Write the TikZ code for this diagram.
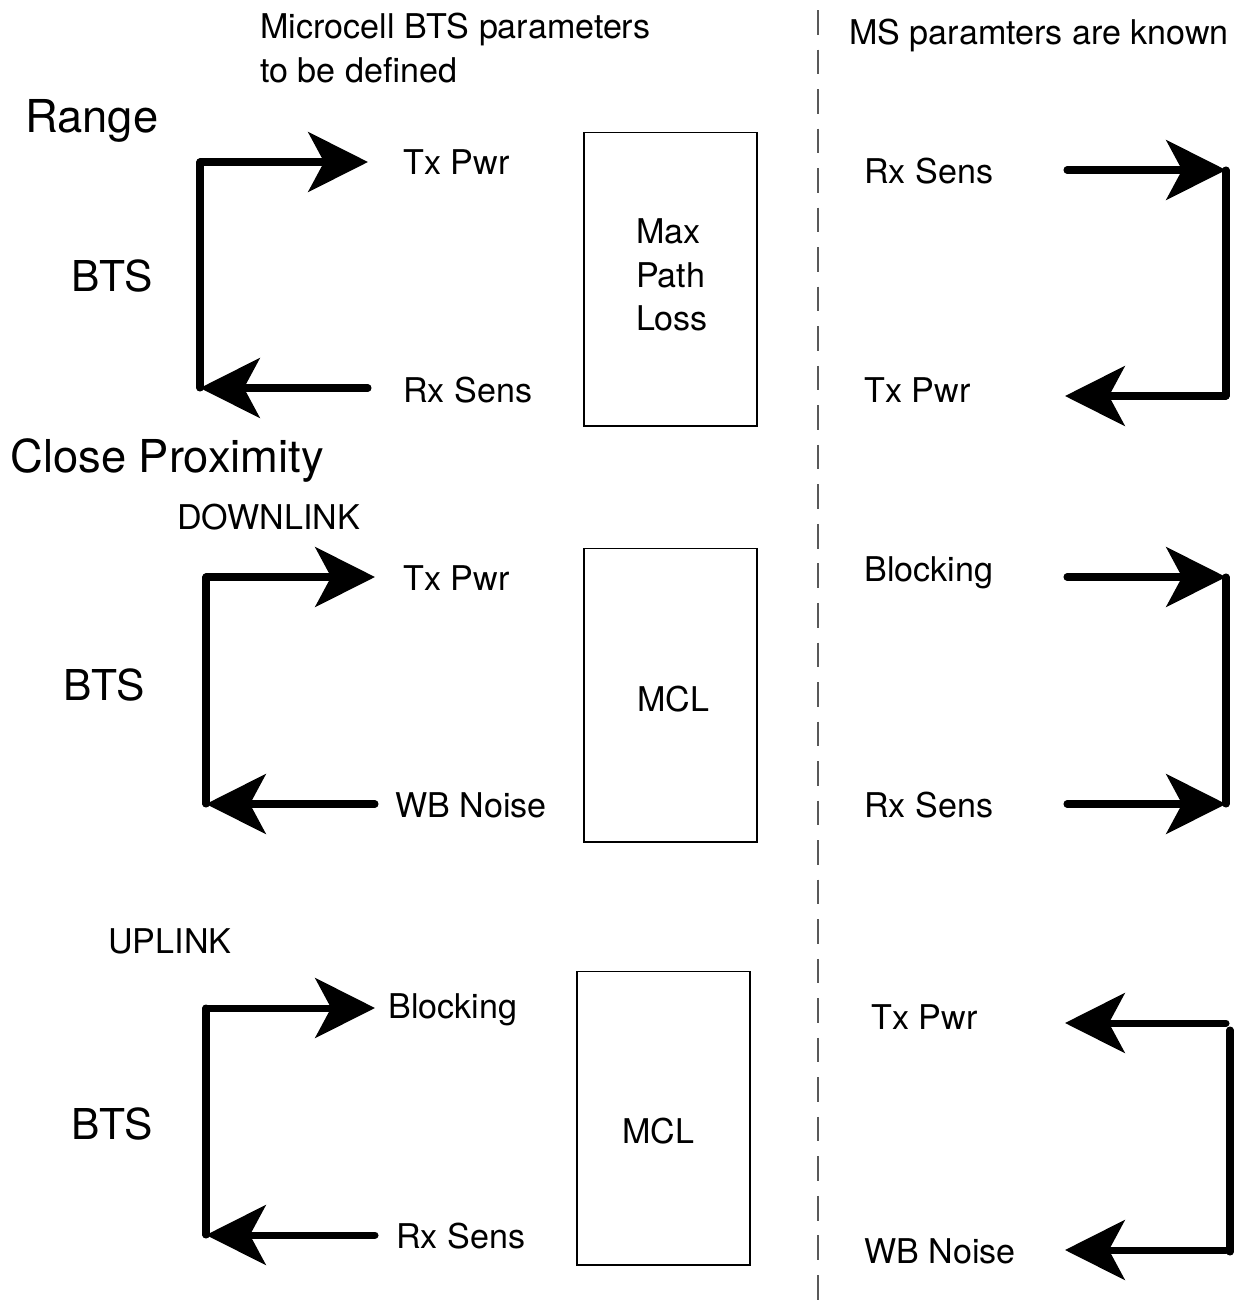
\documentclass[tikz,border=0pt]{standalone}
\usepackage{fontspec}
\setmainfont{TeX Gyre Heros}
\usetikzlibrary{arrows.meta}
\tikzset{
  lbl/.style={font=\fontsize{19.4}{24.7}\selectfont, anchor=west, inner sep=0pt, align=left},
  mid/.style={font=\fontsize{19.4}{24.7}\selectfont, inner sep=0pt, align=left},
  big/.style={font=\fontsize{25.8}{30}\selectfont, anchor=west, inner sep=0pt},
  bts/.style={font=\fontsize{24.2}{28}\selectfont, anchor=west, inner sep=0pt},
  bar/.style={line width=4pt, line cap=round},
  arr/.style={line width=4pt, line cap=round, -{Stealth[length=34pt,width=34pt,inset=9pt]}},
  box/.style={draw, line width=0.6pt, minimum width=3.46cm, minimum height=5.88cm, inner sep=0pt},
}

\begin{document}
\begin{tikzpicture}[x=0.02cm, y=-0.02cm]
  \useasboundingbox (0,0) rectangle (1244,1313);
  % divider
  \draw[gray!70!black, line width=1.2pt, dash pattern=on 14pt off 8.5pt] (818,10) -- (818,1313);
  % headings
  \node[lbl] (hleft) at (260,48) {Microcell BTS parameters\\to be defined};
  \node[lbl] (hright) at (849,35) {MS paramters are known};
  \node[big] (range) at (25,121) {Range};
  \node[big] (close) at (10,461) {Close Proximity};
  \node[lbl] (down) at (177,517) {DOWNLINK};
  \node[lbl] (up) at (108,941) {UPLINK};
  \node[bts] (bts1) at (71,276) {BTS};
  \node[bts] (bts2) at (63,685) {BTS};
  \node[bts] (bts3) at (71,1124) {BTS};

  % boxes
  \node[box] (mpl) at (670.5,279) {};
  \node[mid] (mpltxt) at (672,275) {Max\\Path\\Loss};
  \node[box] (mcl1) at (670.5,695) {};
  \node[mid] (mcltxt1) at (673,699) {MCL};
  \node[box] (mcl2) at (663.5,1118) {};
  \node[mid] (mcltxt2) at (658,1131) {MCL};

  % left side, range
  \coordinate (a1) at (200,162); \coordinate (a2) at (200,388);
  \coordinate (a3) at (368,162); \coordinate (a4) at (368,388);
  \draw[bar] (a1) -- (a2);
  \draw[arr] (a1) -- (a3);
  \draw[arr] (a4) -- (a2);
  \node[lbl] (t1) at (403,162) {Tx Pwr};
  \node[lbl] (r1) at (403,390) {Rx Sens};

  % left side, downlink
  \coordinate (b1) at (206,577); \coordinate (b2) at (206,804);
  \coordinate (b3) at (375,577); \coordinate (b4) at (375,804);
  \draw[bar] (b1) -- (b2);
  \draw[arr] (b1) -- (b3);
  \draw[arr] (b4) -- (b2);
  \node[lbl] (t2) at (403,578) {Tx Pwr};
  \node[lbl] (w2) at (395,805) {WB Noise};

  % left side, uplink
  \coordinate (c1) at (206,1008); \coordinate (c2) at (206,1235);
  \coordinate (c3) at (375,1008); \coordinate (c4) at (375,1235);
  \draw[bar] (c1) -- (c2);
  \draw[arr] (c1) -- (c3);
  \draw[arr] (c4) -- (c2);
  \node[lbl] (k3) at (388,1010) {Blocking};
  \node[lbl] (r3) at (396,1236) {Rx Sens};

  % right side, range
  \coordinate (d1) at (1226,170); \coordinate (d2) at (1226,396);
  \coordinate (d3) at (1067,170); \coordinate (d4) at (1065,396);
  \draw[bar] (d1) -- (d2);
  \draw[arr] (d3) -- (d1);
  \draw[arr] (d2) -- (d4);
  \node[lbl] (r4) at (864,171) {Rx Sens};
  \node[lbl] (t4) at (864,390) {Tx Pwr};

  % right side, downlink
  \coordinate (e1) at (1226,577); \coordinate (e2) at (1226,804);
  \coordinate (e3) at (1067,577); \coordinate (e4) at (1067,804);
  \draw[bar] (e1) -- (e2);
  \draw[arr] (e3) -- (e1);
  \draw[arr] (e4) -- (e2);
  \node[lbl] (k5) at (864,573) {Blocking};
  \node[lbl] (r5) at (864,805) {Rx Sens};

  % right side, uplink
  \coordinate (f1) at (1230,1030); \coordinate (f2) at (1230,1252);
  \coordinate (f3) at (1226,1023); \coordinate (f4) at (1226,1250);
  \coordinate (f5) at (1065,1023); \coordinate (f6) at (1065,1250);
  \draw[bar] (f1) -- (f2);
  \draw[arr] (f3) -- (f5);
  \draw[arr] (f4) -- (f6);
  \node[lbl] (t6) at (871,1017) {Tx Pwr};
  \node[lbl] (w6) at (864,1251) {WB Noise};
\end{tikzpicture}
\end{document}
